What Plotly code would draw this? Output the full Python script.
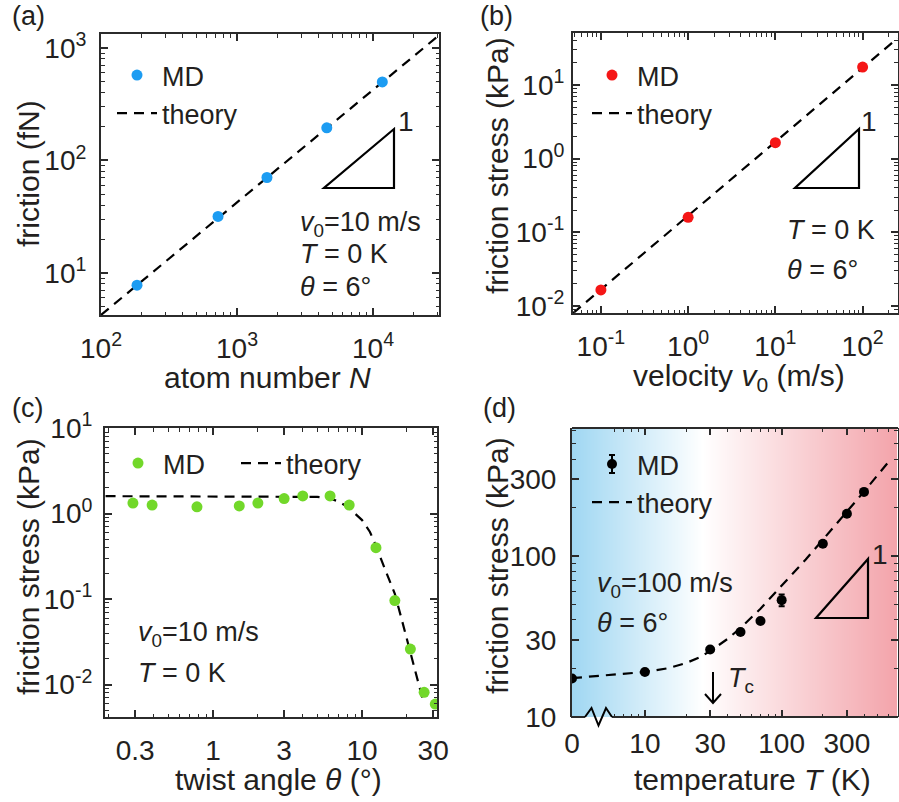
import plotly.graph_objects as go

W, H = 899, 802
FONT = "Arial, 'Liberation Sans', Helvetica, sans-serif"
TXT = "#231f20"
FRAME = "#2b2b2b"

# ---------------- data ----------------
# (a) friction vs atom number
N_md = [184, 725, 1660, 4570, 11700]
F_md = [7.8, 31.8, 70.6, 195, 499]
N_th = [100, 30500]
F_th = [4.24, 1294]

# (b) friction stress vs velocity
v_md = [0.1, 1, 10, 100]
sb_md = [0.0165, 0.16, 1.65, 17.5]
v_th = [0.048, 251]
sb_th = [0.0080, 43]

# (c) friction stress vs twist angle
th_md = [0.29, 0.39, 0.78, 1.5, 2.0, 3.0, 4.0, 6.1, 8.2, 12.4, 16.6, 21.1, 26.1, 31]
sc_md = [1.33, 1.26, 1.20, 1.23, 1.33, 1.50, 1.61, 1.61, 1.26, 0.40, 0.096, 0.026, 0.0081, 0.0059]
th_th = [0.19, 3, 4, 5, 6, 7, 8, 9, 10, 11.3, 12.4, 14.3, 16.6, 18.4, 21, 23.5, 25.6]
sc_th = [1.6, 1.6, 1.59, 1.57, 1.52, 1.38, 1.2, 1.0, 0.84, 0.61, 0.42, 0.22, 0.115, 0.059, 0.025, 0.0115, 0.0066]

# (d) friction stress vs temperature
T_md = [0, 10, 30, 50, 70, 100, 200, 300, 400]
sd_md = [17.3, 19.0, 26.2, 33.7, 39.4, 53.1, 119, 183, 250]
sd_err = [0.4, 0.5, 0.6, 1.2, 0.8, 4.5, 3.5, 4.5, 3.0]
T_th = [0, 10, 15, 20, 25, 30, 40, 50, 70, 100, 150, 200, 300, 400, 614]
sd_th = [17.4, 19.0, 20.1, 21.6, 23.4, 25.6, 30.4, 35.6, 47.0, 65, 95, 126, 188, 251, 390]

T_ZERO_POS = 2.93  # where T = 0 sits on the broken log axis
T_x_md = [t if t > 0 else T_ZERO_POS for t in T_md]
T_x_th = [t if t > 0 else T_ZERO_POS for t in T_th]

# tick labels
a_xt = [100, 1000, 10000]; a_xl = ["10<sup>2</sup>", "10<sup>3</sup>", "10<sup>4</sup>"]
a_yt = [10, 100, 1000]; a_yl = ["10<sup>1</sup>", "10<sup>2</sup>", "10<sup>3</sup>"]
b_xt = [0.1, 1, 10, 100]; b_xl = ["10<sup>-1</sup>", "10<sup>0</sup>", "10<sup>1</sup>", "10<sup>2</sup>"]
b_yt = [0.01, 0.1, 1, 10]; b_yl = ["10<sup>-2</sup>", "10<sup>-1</sup>", "10<sup>0</sup>", "10<sup>1</sup>"]
c_xt = [0.3, 1, 3, 10, 30]; c_xl = ["0.3", "1", "3", "10", "30"]
c_yt = [0.01, 0.1, 1, 10]; c_yl = ["10<sup>-2</sup>", "10<sup>-1</sup>", "10<sup>0</sup>", "10<sup>1</sup>"]
d_xt = [T_ZERO_POS, 10, 30, 100, 300]; d_xl = ["0", "10", "30", "100", "300"]
d_yt = [10, 30, 100, 300]; d_yl = ["10", "30", "100", "300"]

TICK_SIZE = 28
TITLE_SIZE = 30
TEXT_SIZE = 27


def px(x):
    return x / W


def py(y):
    return 1 - y / H


DOM = {
    "a": ([101, 439], [34, 315]),
    "b": ([573, 897.5], [33, 313]),
    "c": ([105, 437], [428, 717]),
    "d": ([572, 897.5], [428, 717]),
}


def dx(k):
    return [px(DOM[k][0][0]), px(DOM[k][0][1])]


def dy(k):
    return [py(DOM[k][1][1]), py(DOM[k][1][0])]


fig = go.Figure()

LINE = dict(color="black", width=2.2, dash="10px,7px")

# background gradient for (d)
fig.add_trace(go.Heatmap(z=[[0, 1], [0, 1]], x=[0, 1], y=[0, 1], zsmooth="best",
                         zmin=0, zmax=1, showscale=False, hoverinfo="skip",
                         colorscale=[[0, "rgb(160,215,242)"], [0.40, "rgb(255,255,255)"],
                                     [1, "rgb(243,163,170)"]],
                         xaxis="x4", yaxis="y4", showlegend=False))

# (a)
fig.add_trace(go.Scatter(x=N_th, y=F_th, mode="lines", name="theory", line=LINE,
                         xaxis="x", yaxis="y", legend="legend", legendrank=2))
fig.add_trace(go.Scatter(x=N_md, y=F_md, mode="markers", name="MD",
                         marker=dict(color="#1c9cf2", size=11), xaxis="x", yaxis="y",
                         legend="legend", legendrank=1))
# (b)
fig.add_trace(go.Scatter(x=v_th, y=sb_th, mode="lines", name="theory", line=LINE,
                         xaxis="x2", yaxis="y2", legend="legend2", legendrank=2))
fig.add_trace(go.Scatter(x=v_md, y=sb_md, mode="markers", name="MD",
                         marker=dict(color="#f51616", size=11), xaxis="x2", yaxis="y2",
                         legend="legend2", legendrank=1))
# (c)
fig.add_trace(go.Scatter(x=th_th, y=sc_th, mode="lines", name="theory", line=LINE,
                         xaxis="x3", yaxis="y3", legend="legend5"))
fig.add_trace(go.Scatter(x=th_md, y=sc_md, mode="markers", name="MD",
                         marker=dict(color="#72d82a", size=11), xaxis="x3", yaxis="y3",
                         legend="legend3"))
# (d)
fig.add_trace(go.Scatter(x=T_x_th, y=sd_th, mode="lines", name="theory", line=LINE,
                         xaxis="x5", yaxis="y5", legend="legend4", legendrank=2))
fig.add_trace(go.Scatter(x=T_x_md, y=sd_md, mode="markers", name="MD",
                         marker=dict(color="black", size=10),
                         error_y=dict(type="data", array=sd_err, color="black", thickness=2, width=3),
                         xaxis="x5", yaxis="y5", legend="legend4", legendrank=1))


def log_axis(domain, rng, tv, tt, anchor, standoff, showline=True, minor_vals=None):
    minor = dict(ticks="inside", ticklen=3.5, tickwidth=1.3, tickcolor=FRAME, showgrid=False)
    if minor_vals is None:
        minor["dtick"] = "D1"
    else:
        minor["tickmode"] = "array"
        minor["tickvals"] = minor_vals
    d = dict(type="log", range=rng, tickmode="array", tickvals=tv, ticktext=tt,
             ticks="inside", ticklen=7, tickwidth=1.5, tickcolor=FRAME,
             showline=showline, linecolor=FRAME, linewidth=2, mirror="allticks",
             showgrid=False, zeroline=False, minor=minor, automargin=False,
             tickfont=dict(size=TICK_SIZE, color=TXT, family=FONT), anchor=anchor,
             ticklabelstandoff=standoff)
    if domain is not None:
        d["domain"] = domain
    return d


fig.update_layout(
    width=W, height=H, margin=dict(l=0, r=0, t=0, b=0, autoexpand=False),
    paper_bgcolor="white", plot_bgcolor="rgba(0,0,0,0)",
    font=dict(family=FONT, color=TXT, size=TEXT_SIZE),
    xaxis=log_axis(dx("a"), [2, 4.485], a_xt, a_xl, "y", 7),
    yaxis=log_axis(dy("a"), [0.627, 3.124], a_yt, a_yl, "x", 7),
    xaxis2=log_axis(dx("b"), [-1.32, 2.40], b_xt, b_xl, "y2", 7),
    yaxis2=log_axis(dy("b"), [-2.095, 1.706], b_yt, b_yl, "x2", 1),
    xaxis3=log_axis(dx("c"), [-0.725, 1.503], c_xt, c_xl, "y3", 7),
    yaxis3=log_axis(dy("c"), [-2.38, 1.002], c_yt, c_yl, "x3", 5),
    xaxis4=dict(domain=dx("d"), range=[0, 1], visible=False, anchor="y4"),
    yaxis4=dict(domain=dy("d"), range=[0, 1], visible=False, anchor="x4"),
    xaxis5=log_axis(None, [0.467, 2.847], d_xt, d_xl, "y5", 7, showline=False,
                    minor_vals=[6, 7, 8, 9, 20, 40, 50, 60, 70, 80, 90, 200, 400, 500, 600]),
    yaxis5=log_axis(None, [0.999, 2.795], d_yt, d_yl, "x5", 8),
)
fig.layout.xaxis5.overlaying = "x4"
fig.layout.yaxis5.overlaying = "y4"

LEG = dict(bgcolor="rgba(0,0,0,0)", font=dict(size=TEXT_SIZE, color=TXT, family=FONT),
           xanchor="left", yanchor="top", itemwidth=40, tracegroupgap=0)
fig.update_layout(
    legend=dict(LEG, x=px(112), y=py(51)),
    legend2=dict(LEG, x=px(587), y=py(51)),
    legend3=dict(LEG, x=px(113), y=py(439)),
    legend5=dict(LEG, x=px(236), y=py(439)),
    legend4=dict(LEG, x=px(587), y=py(440)),
)

ann = []


def text(x, y, s, size=TEXT_SIZE, xanchor="left", yanchor="middle", angle=0):
    ann.append(dict(x=px(x), y=py(y), xref="paper", yref="paper", text=s, showarrow=False,
                    xanchor=xanchor, yanchor=yanchor, textangle=angle,
                    font=dict(size=size, color=TXT, family=FONT)))


# panel labels
text(10, 16, "(a)")
text(478, 16, "(b)")
text(10, 408, "(c)")
text(481, 408, "(d)")

# axis titles
text(28, 174, "friction (fN)", size=TITLE_SIZE, xanchor="center", angle=-90)
text(267, 377, "atom number <i>N</i>", size=TITLE_SIZE, xanchor="center")
text(497, 166, "friction stress (kPa)", size=TITLE_SIZE, xanchor="center", angle=-90)
text(739, 377, "velocity <i>v</i><sub>0</sub> (m/s)", size=TITLE_SIZE, xanchor="center")
text(28, 567, "friction stress (kPa)", size=TITLE_SIZE, xanchor="center", angle=-90)
text(278, 779, "twist angle <i>θ</i> (°)", size=TITLE_SIZE, xanchor="center")
text(497, 566, "friction stress (kPa)", size=TITLE_SIZE, xanchor="center", angle=-90)
text(752, 779, "temperature <i>T</i> (K)", size=TITLE_SIZE, xanchor="center")

# condition texts
text(298, 224, "<i>v</i><sub>0</sub>=10 m/s")
text(298, 254, "<i>T</i> = 0 K")
text(298, 287, "<i>θ</i> = 6°")
text(785, 230, "<i>T</i> = 0 K")
text(785, 270, "<i>θ</i> = 6°")
text(136, 634, "<i>v</i><sub>0</sub>=10 m/s")
text(136, 673, "<i>T</i> = 0 K")
text(595, 585, "<i>v</i><sub>0</sub>=100 m/s")
text(595, 623, "<i>θ</i> = 6°")
text(726, 680, "<i>T</i><sub>c</sub>")

# slope labels
text(406, 122, "1", size=28, xanchor="center")
text(869, 122, "1", size=28, xanchor="center")
text(880, 554, "1", size=28, xanchor="center")

shapes = []


def path(pts, width=2.2, close=False):
    d = "M " + " L ".join(f"{px(x):.5f},{py(y):.5f}" for x, y in pts)
    if close:
        d += " Z"
    shapes.append(dict(type="path", path=d, xref="paper", yref="paper",
                       line=dict(color="black", width=width), layer="above"))


# slope triangles
path([(324, 188), (394, 188), (394, 129)], close=True)
path([(795, 188), (859, 188), (859, 129)], close=True)
path([(816, 618), (868, 618), (868, 559)], close=True)

# Tc arrow
path([(713, 672), (713, 703)], width=2)
path([(705, 694), (713, 703), (721, 694)], width=2)

# error-bar glyph on the (d) legend marker
path([(612, 455), (612, 473)], width=2)
path([(609, 455), (615, 455)], width=2)
path([(609, 473), (615, 473)], width=2)

# frame of (d): top line, broken bottom line with zigzag
shapes.append(dict(type="line", xref="paper", yref="paper", x0=px(572), x1=px(898), y0=py(428), y1=py(428),
                   line=dict(color=FRAME, width=2), layer="above"))
shapes.append(dict(type="line", xref="paper", yref="paper", x0=px(571), x1=px(585), y0=py(717), y1=py(717),
                   line=dict(color=FRAME, width=2), layer="above"))
shapes.append(dict(type="line", xref="paper", yref="paper", x0=px(612), x1=px(898), y0=py(717), y1=py(717),
                   line=dict(color=FRAME, width=2), layer="above"))
path([(585, 717), (591.5, 708), (598.5, 725.5), (606, 708), (612, 717)], width=2)

fig.update_layout(annotations=ann, shapes=shapes)

fig.write_html("out.html")
